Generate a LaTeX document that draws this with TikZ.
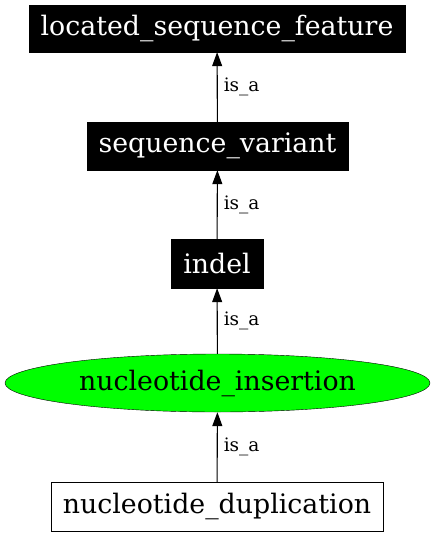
\documentclass[tikz,border=0pt]{standalone}
\usepackage{fontspec}
\setmainfont{DejaVu Serif}
\usetikzlibrary{arrows.meta,shapes.geometric}
\begin{document}
\begin{tikzpicture}[x=1pt,y=-1pt,
  bigfont/.style={font=\fontsize{26.8}{30}\selectfont},
  blackbox/.style={bigfont,draw=black,fill=black,text=white,minimum height=47pt,inner sep=0pt},
  whitebox/.style={bigfont,draw=black,fill=white,text=black,minimum height=49pt,inner sep=0pt},
  greenell/.style={bigfont,draw=black,fill=green,ellipse,minimum width=425pt,minimum height=58pt,inner sep=0pt},
  isa/.style={-{Triangle[length=14pt,width=10pt]},line width=1.1pt},
  lbl/.style={font=\fontsize{18.5}{20}\selectfont,anchor=west,inner sep=0pt}]
\useasboundingbox (0,0) rectangle (435,536);
\node[blackbox,minimum width=376pt] (lsf) at (217,28.5) {located\_sequence\_feature};
\node[blackbox,minimum width=261pt,minimum height=48pt] (sv) at (217.5,146) {sequence\_variant};
\node[blackbox,minimum width=92pt,minimum height=49pt] (ind) at (217,263.5) {indel};
\node[greenell] (ni) at (217.5,383) {nucleotide\_insertion};
\node[whitebox,minimum width=332pt] (nd) at (217,506.5) {nucleotide\_duplication};
\draw[isa] (sv) -- node[lbl,xshift=6pt,pos=0.5] {is\_a} (lsf);
\draw[isa] (ind) -- node[lbl,xshift=6pt,pos=0.5] {is\_a} (sv);
\draw[isa] (ni) -- node[lbl,xshift=6pt,pos=0.5] {is\_a} (ind);
\draw[isa] (nd) -- node[lbl,xshift=6pt,pos=0.5] {is\_a} (ni);
\end{tikzpicture}
\end{document}
